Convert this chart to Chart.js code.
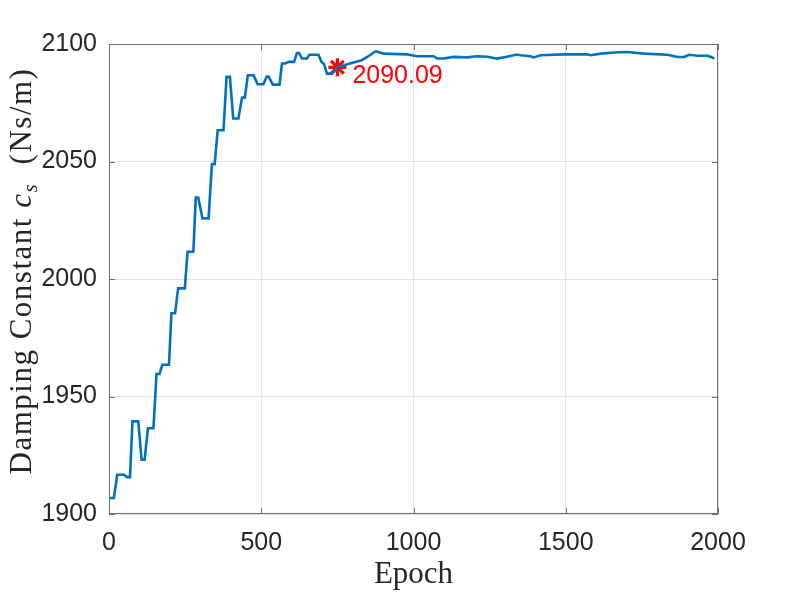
<!DOCTYPE html>
<html>
<head>
<meta charset="utf-8">
<script src="https://cdn.jsdelivr.net/npm/chart.js@4"></script>
<style>
  html, body { margin: 0; padding: 0; background: #fff; }
  canvas { display: block; }
</style>
</head>
<body>
<canvas id="myChart" width="793" height="595"></canvas>
<script>
// data
const epochs = [0, 16, 27, 49, 59, 69, 77, 96, 107, 117, 128, 146, 156, 166, 175, 197, 205, 217, 227, 249,
  258, 277, 285, 293, 307, 327, 338, 347, 357, 376, 386, 397, 408, 425, 437, 446, 456, 475, 488, 507,
  518, 524, 538, 560, 568, 579, 590, 608, 617, 624, 634, 650, 658, 688, 698, 706, 716, 733, 750, 791,
  830, 857, 874, 880, 901, 978, 1011, 1066, 1078, 1098, 1132, 1176, 1209, 1242, 1274, 1307, 1340, 1351, 1384, 1395,
  1417, 1494, 1571, 1582, 1615, 1670, 1702, 1757, 1834, 1867, 1889, 1905, 1933, 1966, 1977, 1988];
const damping = [1906.8, 1906.8, 1916.7, 1916.7, 1915.7, 1915.7, 1939.4, 1939.4, 1923.1, 1923.1, 1936.5, 1936.5, 1959.6, 1959.6, 1963.5, 1963.5, 1985.4, 1985.4, 1996.0, 1996.0,
  2011.6, 2011.6, 2034.7, 2034.7, 2025.8, 2025.8, 2048.9, 2048.9, 2063.3, 2063.3, 2086.0, 2086.0, 2068.3, 2068.3, 2077.2, 2077.2, 2086.7, 2086.7, 2082.9, 2082.9,
  2086.2, 2086.2, 2082.7, 2082.7, 2091.7, 2091.7, 2092.4, 2092.4, 2096.2, 2096.2, 2093.8, 2093.8, 2095.4, 2095.4, 2092.4, 2091.5, 2087.4, 2087.4, 2090.09, 2091.7,
  2093.1, 2095.2, 2096.8, 2096.8, 2095.9, 2095.6, 2094.8, 2094.8, 2093.8, 2093.8, 2094.5, 2094.3, 2094.8, 2094.6, 2093.8, 2094.6, 2095.5, 2095.2, 2094.8, 2094.3,
  2095.2, 2095.6, 2095.6, 2095.2, 2095.9, 2096.5, 2096.6, 2095.9, 2095.4, 2094.5, 2094.5, 2095.4, 2095.0, 2095.0, 2094.5, 2093.8];
const markEpoch = [750];
const markValue = [2090.09];
const xTicks = [0, 500, 1000, 1500, 2000];
const yTicks = [1900, 1950, 2000, 2050, 2100];

const tickFont = { family: 'Liberation Sans', size: 25 };
const serif = 'Liberation Serif';

// box round the axes with inward ticks, like matlab
const boxPlugin = {
  id: 'box',
  afterDraw(chart) {
    const c = chart.ctx, a = chart.chartArea;
    const xs = chart.scales.x, ys = chart.scales.y;
    c.save();
    c.strokeStyle = '#707070';
    c.lineWidth = 1;
    c.strokeRect(a.left + 0.5, a.top + 0.5, a.right - a.left - 1, a.bottom - a.top - 1);
    c.beginPath();
    xTicks.forEach(t => {
      const px = Math.round(xs.getPixelForValue(t)) + 0.5;
      c.moveTo(px, a.bottom); c.lineTo(px, a.bottom - 6);
      c.moveTo(px, a.top); c.lineTo(px, a.top + 6);
    });
    yTicks.forEach(t => {
      const py = Math.round(ys.getPixelForValue(t)) + 0.5;
      c.moveTo(a.left, py); c.lineTo(a.left + 6, py);
      c.moveTo(a.right, py); c.lineTo(a.right - 6, py);
    });
    c.stroke();

    // label of the marked point
    c.fillStyle = '#ff0000';
    c.font = '25px Liberation Sans';
    c.textBaseline = 'alphabetic';
    c.fillText(markValue[0].toFixed(2), xs.getPixelForValue(markEpoch[0]) + 15, ys.getPixelForValue(markValue[0]) + 16);

    // y label with subscript
    const parts = [
      { t: 'Damping Constant ', f: '31px ' + serif, dy: 0 },
      { t: 'c', f: 'italic 31px ' + serif, dy: 0 },
      { t: 's', f: 'italic 21px ' + serif, dy: 6 },
      { t: '  (Ns/m)', f: '31px ' + serif, dy: 0 }
    ];
    c.letterSpacing = '1.5px';
    let total = 0;
    parts.forEach(p => { c.font = p.f; p.w = c.measureText(p.t).width; total += p.w; });
    c.translate(31, (a.top + a.bottom) / 2 - 8);
    c.rotate(-Math.PI / 2);
    c.fillStyle = '#262626';
    let x = -total / 2;
    parts.forEach(p => { c.font = p.f; c.fillText(p.t, x, p.dy); x += p.w; });
    c.restore();
  }
};

const ctx = document.getElementById('myChart');

new Chart(ctx, {
  type: 'line',
  data: {
    datasets: [{
      data: epochs.map((e, i) => ({ x: e, y: damping[i] })),
      borderColor: '#0072BD',
      borderWidth: 2.6,
      pointRadius: 0,
      tension: 0,
      fill: false
    }, {
      data: markEpoch.map((e, i) => ({ x: e, y: markValue[i] })),
      showLine: false,
      pointStyle: 'star',
      pointRadius: 9,
      borderColor: '#ff0000',
      backgroundColor: '#ff0000',
      pointBorderWidth: 3.2
    }]
  },
  options: {
    responsive: false,
    animation: false,
    events: [],
    layout: { padding: { left: 0, right: 75, top: 44, bottom: 0 } },
    plugins: { legend: { display: false }, tooltip: { enabled: false } },
    scales: {
      x: {
        type: 'linear',
        min: 0,
        max: 2000,
        afterBuildTicks: s => { s.ticks = xTicks.map(v => ({ value: v })); },
        afterFit: s => { s.height = 81; },
        ticks: { font: tickFont, color: '#262626', padding: 14, maxRotation: 0, callback: v => String(v) },
        grid: { color: '#e3e3e3', drawTicks: false },
        border: { display: false },
        title: { display: true, text: 'Epoch', font: { family: serif, size: 31 }, color: '#262626', padding: { top: 0, bottom: 2 } }
      },
      y: {
        min: 1900,
        max: 2100,
        afterBuildTicks: s => { s.ticks = yTicks.map(v => ({ value: v })); },
        afterFit: s => { s.width = 109; },
        ticks: { font: tickFont, color: '#262626', padding: 12, callback: v => String(v) },
        grid: { color: '#e3e3e3', drawTicks: false },
        border: { display: false }
      }
    }
  },
  plugins: [boxPlugin]
});
</script>
</body>
</html>
